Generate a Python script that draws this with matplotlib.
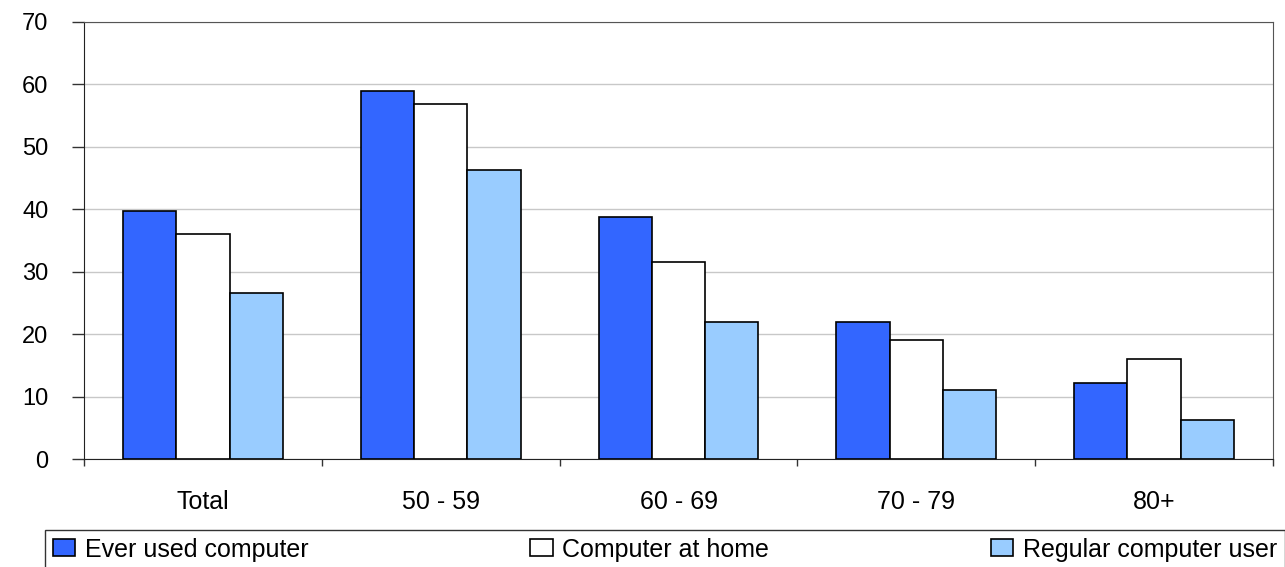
import numpy as np
import matplotlib.pyplot as plt
from matplotlib.ticker import FixedLocator

categories = ["Total", "50 - 59", "60 - 69", "70 - 79", "80+"]
series_names = ["Ever used computer", "Computer at home", "Regular computer user"]
ever_used = [39.7, 59.0, 38.7, 22.0, 12.1]
at_home = [36.1, 56.8, 31.6, 19.0, 16.0]
regular = [26.6, 46.3, 22.0, 11.0, 6.2]

colors = ["#3366FF", "#FFFFFF", "#99CCFF"]

plt.rcParams["font.family"] = ["Liberation Sans", "DejaVu Sans"]

fig = plt.figure(figsize=(12.85, 5.67), dpi=100)
ax = fig.add_axes([84 / 1285, 1 - 459 / 567, (1273 - 84) / 1285, (459 - 22) / 567])

x = np.arange(len(categories))
w = 0.224
for i, (vals, name) in enumerate(zip([ever_used, at_home, regular], series_names)):
    ax.bar(x + (i - 1) * w, vals, width=w, color=colors[i], edgecolor="black",
           linewidth=1.2, label=name, zorder=3)

ax.set_xlim(-0.5, len(categories) - 0.5)
ax.set_ylim(0, 70)
ax.set_yticks(range(0, 71, 10))
ax.yaxis.grid(True, color="#C8C8C8", linewidth=1, zorder=0)
ax.set_xticks(x)
ax.set_xticklabels(categories)
ax.xaxis.set_minor_locator(FixedLocator(np.arange(-0.5, len(categories), 1.0)))
ax.tick_params(axis="x", which="major", length=0, pad=22, labelsize=18)
ax.tick_params(axis="x", which="minor", length=5, width=1, color="#333333")
ax.tick_params(axis="y", length=8.6, width=1, color="#333333", pad=17, labelsize=17)

for side in ["top", "right"]:
    ax.spines[side].set_color("#555555")
ax.spines["left"].set_color("#222222")
ax.spines["bottom"].set_color("#222222")

leg = fig.legend(loc="upper left", bbox_to_anchor=(45 / 1285, -0.2, 1 - 45 / 1285, 0.2 + 1 - 530 / 567),
                 mode="expand", ncol=3, fontsize=18, frameon=True, fancybox=False,
                 handlelength=0.9, handleheight=0.65, handletextpad=0.4, borderpad=0.3,
                 borderaxespad=0)
leg.get_frame().set_edgecolor("black")
leg.get_frame().set_linewidth(1)

fig.savefig("out.png", dpi=100)
